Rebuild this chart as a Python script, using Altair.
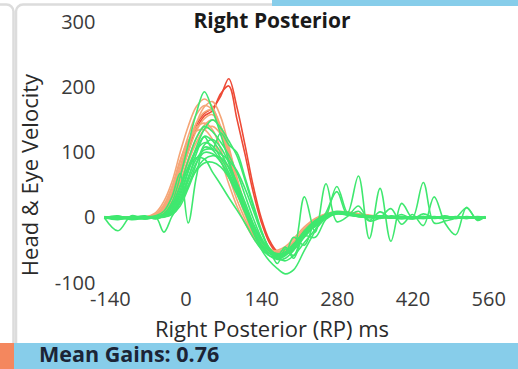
import altair as alt
import pandas as pd

# Sample times (ms) shared by every trace
T = [-150, -125, -100, -75, -55, -40, -25, -10, 5, 20, 35, 50, 65, 80, 95,
     110, 125, 140, 155, 170, 185, 200, 220, 240, 260, 280, 300, 320, 340,
     360, 380, 400, 420, 440, 460, 480, 500, 520, 540, 555]

# Head velocity traces (deg/s)
head = {
    "h1": [0, 1, 0, 1, 8, 25, 55, 100, 140, 170, 182, 170, 135, 85, 40, 5, -25, -45, -52, -55, -50, -38, -18, -3, 6, 9, 7, 4, 2, 1, 1, 0, 0, 1, 0, 0, 0, 0, 0, 0],
    "h2": [0, 0, 1, 1, 5, 18, 45, 85, 125, 158, 172, 165, 135, 90, 45, 8, -22, -42, -50, -54, -50, -40, -20, -5, 5, 9, 8, 5, 3, 1, 1, 0, 0, 0, 0, 1, 0, 0, 0, 0],
    "h3": [1, 0, 0, 1, 4, 14, 36, 72, 112, 145, 162, 165, 140, 95, 50, 12, -18, -40, -50, -53, -52, -42, -22, -6, 4, 8, 8, 5, 3, 2, 1, 1, 0, 0, 0, 0, 0, 0, 0, 0],
    "h4": [0, 0, 0, 0, 3, 11, 30, 62, 100, 133, 152, 158, 138, 100, 55, 15, -15, -38, -49, -54, -53, -44, -25, -8, 3, 8, 8, 6, 3, 2, 1, 0, 0, 0, 0, 0, 0, 0, 0, 0],
    "h5": [0, 0, 1, 0, 2, 9, 25, 55, 90, 122, 142, 150, 140, 105, 62, 20, -12, -35, -47, -52, -52, -45, -27, -10, 2, 7, 8, 6, 4, 2, 1, 1, 0, 0, 0, 0, 0, 0, 0, 0],
    "h6": [0, 1, 0, 1, 4, 15, 40, 78, 115, 138, 145, 135, 105, 65, 28, -2, -28, -45, -52, -52, -47, -36, -17, -3, 5, 8, 6, 4, 2, 1, 0, 0, 0, 0, 0, 0, 0, 0, 0, 0],
    "h7": [0, 0, 0, 0, 2, 8, 22, 50, 85, 115, 135, 140, 128, 95, 55, 18, -14, -37, -48, -52, -50, -42, -24, -8, 3, 8, 7, 5, 3, 1, 1, 0, 0, 0, 0, 0, 0, 0, 0, 0],
    "h8": [0, 0, 0, 1, 3, 12, 32, 66, 108, 145, 170, 178, 155, 110, 60, 15, -20, -42, -52, -56, -54, -44, -24, -7, 4, 9, 9, 6, 3, 2, 1, 0, 0, 0, 0, 0, 0, 0, 0, 0],
    "h9": [1, 0, 0, 1, 6, 20, 48, 88, 118, 133, 135, 120, 90, 52, 18, -8, -30, -46, -52, -50, -44, -32, -14, -1, 6, 8, 6, 3, 2, 1, 0, 0, 0, 0, 0, 0, 0, 0, 0, 0],
}

# Head impulses flagged as too fast
head_flagged = {
    "r1": [0, 0, 0, 1, 4, 14, 36, 70, 110, 142, 160, 168, 186, 213, 170, 112, 50, 0, -34, -52, -56, -48, -28, -9, 3, 8, 8, 5, 3, 1, 1, 0, 0, 0, 0, 0, 0, 0, 0, 0],
    "r2": [0, 0, 0, 0, 3, 12, 32, 64, 102, 136, 156, 164, 190, 202, 152, 98, 40, -6, -38, -54, -55, -46, -26, -8, 3, 8, 7, 5, 2, 1, 0, 0, 0, 0, 0, 0, 0, 0, 0, 0],
}

# Eye velocity traces (deg/s)
eye = {
    "e1": [0, -3, 2, -1, 1, 6, 24, 62, 112, 160, 193, 165, 128, 88, 50, 18, -10, -32, -48, -56, -52, -40, -22, -6, 4, 7, 5, 2, 3, 1, 0, 2, 0, -1, 1, 0, 0, 1, 0, 0],
    "e2": [2, -2, 0, 3, -2, 4, 14, 38, 72, 108, 136, 150, 138, 118, 95, 58, 18, -20, -48, -60, -56, -42, -20, -4, 5, 9, 6, 2, 0, 3, 1, -2, 1, 0, 2, 0, -1, 1, 0, 1],
    "e3": [0, 3, -3, 0, 2, 1, 9, 26, 60, 98, 124, 106, 130, 112, 100, 62, 22, -18, -48, -63, -58, -44, -24, -6, 4, 10, 7, 2, 1, -1, 3, 1, 0, 2, 0, -1, 1, 0, 2, 0],
    "e4": [0, -20, 3, -2, 1, -22, 2, 22, 48, 82, 112, 120, 108, 84, 52, 16, -16, -42, -50, -70, -48, -58, -20, -14, 4, 7, 5, 3, 0, 2, 1, 0, -2, 1, 0, 0, 1, 0, 0, 0],
    "e5": [1, 0, -2, 1, 3, 10, 32, 68, -8, 62, 108, 104, 86, 62, 36, 8, -20, -44, -58, -64, -62, -50, -30, -12, 0, 6, 4, 2, 1, 0, 2, 0, 1, -1, 0, 1, 0, 0, 1, 0],
    "e6": [0, 1, 0, -1, 2, 6, 20, 48, 76, 92, 90, 70, 51, 31, 12, -8, -30, -48, -58, -62, -56, -44, -26, -9, 2, 8, 6, 3, 1, 2, 0, 1, 0, 0, 1, 0, 0, -1, 0, 0],
    "e7": [0, 2, -1, 1, 0, 3, 12, 34, 70, 104, 125, 118, 100, 76, 46, 14, -18, -42, -55, -58, -54, -48, 32, -22, 52, -6, 2, 18, -4, 9, 0, 5, -2, 6, 0, 3, -1, 2, 0, 1],
    "e8": [0, 1, 0, -2, 1, 4, 16, 42, 78, 104, 115, 110, 92, 70, 42, 12, -18, -40, -54, -62, -66, -58, -38, -18, 2, 48, 8, 64, -32, 45, -36, 22, 0, 54, -8, -5, 0, 15, -3, 2],
    "e9": [1, -1, 0, 2, 0, 2, 8, 26, 56, 84, 100, 98, 86, 66, 40, 10, -22, -48, -66, -78, -86, -80, -50, -20, 8, 40, 4, 10, -5, 0, 14, -10, 5, -12, 32, -8, -26, 16, -4, 2],
    "e10": [0, 1, -1, 0, 2, 3, 10, 30, 62, 90, 104, 105, 98, 88, 72, 45, 12, -22, -46, -58, -56, -46, -28, -10, 1, 6, 5, 3, 2, 0, 1, 1, 0, 2, 0, 1, 0, -1, 1, 0],
    "e11": [-1, 0, 1, -1, 0, 1, 5, 18, 45, 74, 90, 95, 92, 78, 54, 24, -8, -34, -50, -58, -45, -62, -28, -30, -2, 7, 8, 4, 3, 1, 0, 2, 1, 0, 1, 0, 2, 0, 0, 1],
    "e12": [0, 2, 0, 1, -1, 2, 7, 24, 50, 72, 84, 85, 78, 62, 40, 14, -12, -36, -50, -55, -54, -30, -42, -6, 2, 6, 5, 2, 1, 3, 0, 1, 0, 1, -1, 0, 1, 0, 0, 0],
    "e13": [1, -1, 1, 0, 2, 5, 18, 48, 88, 122, 140, 132, 116, 96, 70, 35, 0, -30, -50, -60, -56, -44, -24, -8, 3, 8, 6, 4, 1, 2, 0, 0, 1, 0, 0, 1, 0, 0, 0, 0],
}

X_TICKS = [-140, 0, 140, 280, 420, 560]
Y_TICKS = [-100, 0, 100, 200, 300]

FONT = "Open Sans"
ORANGE = "#F5A677"
RED = "#EE4A36"
GREEN = "#3FE86F"


def long_frame(traces):
    rows = []
    for name, vals in traces.items():
        for t, v in zip(T, vals):
            rows.append({"t": t, "v": v, "trace": name})
    return pd.DataFrame(rows)


x_enc = alt.X("t:Q", scale=alt.Scale(domain=[-160, 580], nice=False, zero=False),
              axis=alt.Axis(values=X_TICKS, title=None, domain=False, ticks=False,
                            grid=False, labelFont=FONT, labelFontSize=20,
                            labelColor="#3a3a3a", labelPadding=6,
                            labelExpr="'' + datum.value"))
y_enc = alt.Y("v:Q", scale=alt.Scale(domain=[-100, 300], nice=False, zero=False),
              axis=alt.Axis(values=Y_TICKS, title=None, domain=False, ticks=False,
                            grid=False, labelFont=FONT, labelFontSize=20,
                            labelColor="#3a3a3a", labelPadding=4,
                            labelExpr="'' + datum.value"))


def trace_layer(traces, colour):
    return alt.Chart(long_frame(traces)).mark_line(
        interpolate="catmull-rom", strokeWidth=1.6, color=colour
    ).encode(x=x_enc, y=y_enc, detail="trace:N", order="t:Q")


one = pd.DataFrame({"k": [0]})


def box(x1, x2, y1, y2, **kw):
    return alt.Chart(one).mark_rect(**kw).encode(
        x=alt.value(x1), x2=alt.value(x2), y=alt.value(y1), y2=alt.value(y2))


def label(text, x, y, **kw):
    return alt.Chart(one).mark_text(text=text, font=FONT, **kw).encode(
        x=alt.value(x), y=alt.value(y))


# panel frames (pixel offsets from the plot origin)
frames = [
    box(-300, -85.5, -17.5, 400, filled=False, stroke="#DCDCDC", strokeWidth=2.5, cornerRadius=7),
    box(-83, 600, -17.5, 400, filled=False, stroke="#DCDCDC", strokeWidth=2.5, cornerRadius=7),
    box(173, 440, -40, -16, color="#87CDEA"),
    box(-110, -85, 321, 360, color="#F4875E"),
    box(-85, 440, 321, 360, color="#87CDEA"),
]

texts = [
    label("Mean Gains: 0.90", 196, -22.5, align="left", baseline="alphabetic",
          fontSize=21, fontWeight="bold", color="#1B2436"),
    label("Right Posterior", 173, 0, align="center", baseline="middle",
          fontSize=21, fontWeight="bold", color="#1a1a1a"),
    label("Right Posterior (RP) ms", 173, 308, align="center", baseline="middle",
          fontSize=22, color="#2a2a2a"),
    label("Head & Eye Velocity", -68, 153, align="center", baseline="middle",
          angle=270, fontSize=22, color="#2a2a2a"),
    label("Mean Gains: 0.76", -60, 334, align="left", baseline="middle",
          fontSize=21.5, fontWeight="bold", color="#1B2436"),
]

chart = alt.layer(
    *frames,
    trace_layer(head_flagged, RED),
    trace_layer(head, ORANGE),
    trace_layer(eye, GREEN),
    *texts,
).properties(
    width=400, height=261,
    autosize=alt.AutoSizeParams(type="none"),
    padding={"left": 99, "top": 22, "right": 19, "bottom": 86},
    background="white",
).configure_view(strokeWidth=0)

chart.save("out.html", embed_options={"renderer": "svg", "actions": False})
